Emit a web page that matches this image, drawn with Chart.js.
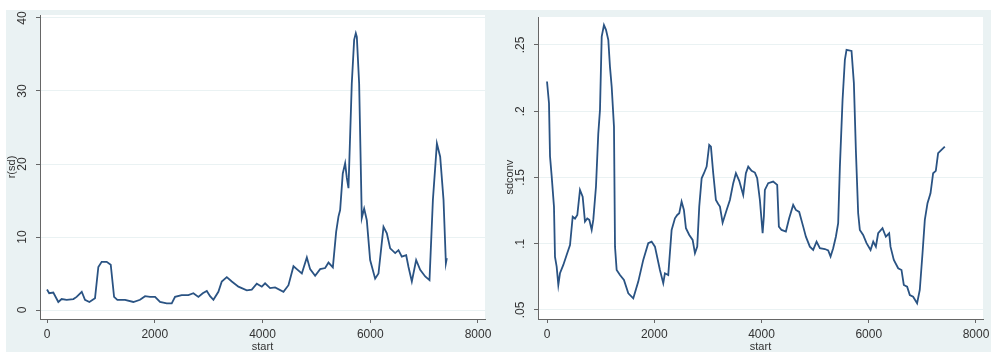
<!DOCTYPE html>
<html><head><meta charset="utf-8">
<script src="https://cdn.jsdelivr.net/npm/chart.js@4.4.1/dist/chart.umd.min.js"></script>
<style>
html,body{margin:0;padding:0;background:#fff;width:991px;height:352px;overflow:hidden;}
#wrap{position:absolute;left:0;top:0;width:991px;height:352px;overflow:hidden;}
#bg{position:absolute;left:6px;top:10px;width:985px;height:342px;background:#eaf2f3;}
.plot{position:absolute;background:#fff;}
#p1{left:40px;top:15px;width:445px;height:304px;}
#p2{left:538px;top:17px;width:445px;height:302px;}
#c1{position:absolute;left:0;top:0;}
#c2{position:absolute;left:495px;top:0;}
</style></head><body>
<div id="wrap">
<div id="bg"></div>
<div class="plot" id="p1"></div>
<div class="plot" id="p2"></div>
<canvas id="c2" width="510" height="352"></canvas>
<canvas id="c1" width="495" height="352"></canvas>
</div>
<script>
// ---- data ----
const startLeft = [0,40,117,210,272,365,490,550,645,705,787,891,953,1015,1108,1183,1245,1306,1449,1603,1727,1820,1913,2006,2098,2222,2315,2377,2500,2624,2717,2810,2891,2966,3027,3089,3181,3244,3337,3430,3553,3708,3801,3894,3987,4048,4141,4234,4389,4482,4575,4637,4730,4823,4884,4977,5070,5163,5225,5306,5367,5410,5441,5490,5534,5565,5596,5657,5701,5732,5751,5794,5843,5887,5936,5998,6091,6153,6246,6308,6370,6463,6524,6586,6667,6710,6772,6852,6927,7020,7100,7163,7237,7298,7360,7404,7422];
const rsd = [2.8,2.3,2.4,1.1,1.5,1.4,1.5,1.8,2.5,1.4,1.1,1.6,5.9,6.6,6.6,6.2,1.8,1.4,1.4,1.1,1.4,1.9,1.8,1.8,1.1,0.9,0.9,1.8,2.05,2.05,2.3,1.8,2.3,2.6,1.9,1.4,2.5,3.9,4.5,3.9,3.2,2.7,2.8,3.6,3.2,3.65,3.0,3.1,2.5,3.4,6.0,5.6,5.0,7.2,5.6,4.7,5.6,5.75,6.5,5.85,10.7,12.8,13.7,18.7,20.1,18.1,16.7,31,37,37.9,37.4,31,12.6,13.9,12.3,6.85,4.3,5.0,11.4,10.5,8.45,7.8,8.2,7.3,7.5,5.9,3.9,6.85,5.5,4.6,4.1,15.1,22.8,21,15.1,6.4,7.1];

const startRight = [0,37,56,87,130,149,180,211,242,304,366,429,479,522,565,615,665,708,751,789,833,863,913,956,988,1020,1062,1100,1143,1174,1206,1249,1268,1299,1361,1435,1516,1609,1702,1795,1888,1951,2013,2106,2168,2199,2261,2324,2386,2429,2466,2510,2553,2591,2653,2716,2759,2802,2839,2884,2927,2977,3025,3057,3100,3150,3193,3225,3275,3350,3411,3473,3523,3585,3659,3709,3753,3815,3877,3920,3970,4021,4045,4063,4125,4218,4293,4324,4374,4455,4516,4591,4641,4703,4778,4828,4902,4964,5027,5089,5182,5244,5288,5337,5387,5430,5462,5512,5555,5586,5679,5723,5760,5803,5834,5896,5959,6034,6084,6133,6176,6257,6319,6381,6406,6468,6549,6611,6654,6716,6766,6828,6902,6952,7003,7046,7096,7152,7201,7251,7294,7356,7419];
const sdconv = [.2224,.206,.166,.151,.128,.090,.0827,.0689,.0777,.084,.0915,.099,.1204,.119,.1217,.1406,.1355,.1167,.119,.118,.1104,.118,.143,.183,.201,.2563,.265,.2614,.2539,.2337,.2186,.1884,.0978,.0802,.0764,.0727,.0626,.0588,.0714,.0878,.1004,.1016,.0978,.0802,.0702,.0777,.0764,.1104,.1192,.1217,.123,.1318,.1255,.1117,.1066,.1029,.0928,.0978,.128,.1494,.1532,.1582,.1746,.1733,.1532,.133,.130,.128,.1159,.1255,.133,.1457,.1532,.1475,.1368,.1532,.1582,.155,.1537,.1494,.133,.1079,.121,.1406,.1457,.1469,.1444,.1129,.1104,.1092,.1192,.1293,.1255,.124,.1129,.1053,.0978,.0953,.1016,.0966,.096,.095,.0903,.0966,.1053,.1155,.1582,.2086,.2388,.2463,.2455,.2212,.1708,.123,.1104,.1066,.1004,.0953,.1016,.0978,.1079,.1117,.1053,.1079,.0978,.0878,.0815,.0802,.0689,.0676,.0613,.060,.0551,.0651,.0928,.118,.1306,.1381,.1532,.155,.1683,.1708,.1733];

const xTicks = [0,2000,4000,6000,8000];
const xLabels = ['0','2000','4000','6000','8000'];
const leftYTicks = [0,10,20,30,40];
const leftYLabels = ['0','10','20','30','40'];
const rightYTicks = [0.05,0.1,0.15,0.2,0.25];
const rightYLabels = ['.05','.1','.15','.2','.25'];

// ---- drawing ----
const FONT = "'Liberation Sans', Arial, sans-serif";
const TXT = '#333';
const AX = '#666';
const LINE = '#2a5383';

function makeChart(canvas, xs, ys, cfg) {
  const pts = xs.map((x, i) => ({x: x, y: ys[i]}));
  return new Chart(canvas, {
    type: 'line',
    data: { datasets: [{ data: pts, borderColor: LINE, borderWidth: 1.8, pointRadius: 0, tension: 0, fill: false }] },
    options: {
      responsive: false, animation: false, devicePixelRatio: 1,
      layout: { padding: cfg.padding },
      plugins: { legend: {display: false}, tooltip: {enabled: false} },
      scales: {
        x: {
          type: 'linear', min: cfg.xMin, max: cfg.xMax,
          afterBuildTicks: s => { s.ticks = xTicks.map(v => ({value: v})); },
          afterFit: s => { s.height = 33; s.paddingLeft = 0; s.paddingRight = 0; },
          ticks: { autoSkip: false, callback: v => xLabels[xTicks.indexOf(v)], minRotation: 0, maxRotation: 0, padding: 4, color: TXT, font: {family: FONT, size: 12} },
          grid: { drawOnChartArea: false, tickColor: AX, tickLength: 4 },
          border: { display: true, color: AX, width: 1 },
          title: { display: true, text: 'start', color: TXT, font: {family: FONT, size: 11, lineHeight: 1}, padding: {top: 0, bottom: 0} }
        },
        y: {
          type: 'linear', min: cfg.yMin, max: cfg.yMax,
          afterBuildTicks: s => { s.ticks = cfg.yTicks.map(v => ({value: v})); },
          afterFit: s => { s.width = cfg.yWidth; s.paddingTop = 0; s.paddingBottom = 0; },
          ticks: { autoSkip: false, callback: v => cfg.yLabels[cfg.yTicks.indexOf(v)], minRotation: 90, maxRotation: 90, crossAlign: 'center', padding: cfg.tickPad, color: TXT, font: {family: FONT, size: 12} },
          grid: { color: '#eaf2f3', lineWidth: 1, tickColor: AX, tickLength: 4 },
          border: { display: true, color: AX, width: 1 },
          title: { display: true, text: cfg.yTitle, color: TXT, font: {family: FONT, size: 11, lineHeight: 1}, padding: {top: cfg.titlePad, bottom: 0} }
        }
      }
    }
  });
}

makeChart(document.getElementById('c2'), startRight, sdconv, {
  padding: {left: 0, right: 22, top: 17, bottom: 0},
  xMin: -168, xMax: 8131, yMin: 0.0432, yMax: 0.2711,
  yTicks: rightYTicks, yLabels: rightYLabels, yWidth: 43, tickPad: 5, yTitle: 'sdconv      ', titlePad: 9.5
});
makeChart(document.getElementById('c1'), startLeft, rsd, {
  padding: {left: 0, right: 10, top: 15, bottom: 0},
  xMin: -130, xMax: 8130, yMin: -1.23, yMax: 40.41,
  yTicks: leftYTicks, yLabels: leftYLabels, yWidth: 40, tickPad: 7, yTitle: 'r(sd)', titlePad: 6
});
</script>
</body></html>
